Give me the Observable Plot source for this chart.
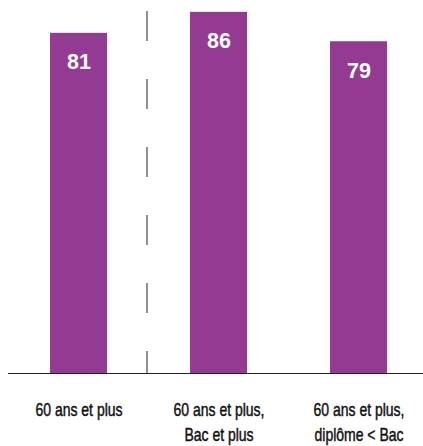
<!DOCTYPE html>
<html>
<head>
<meta charset="utf-8">
<script src="https://cdn.jsdelivr.net/npm/d3@7"></script>
<script src="https://cdn.jsdelivr.net/npm/@observablehq/plot@0.6"></script>
<style>
  html, body { margin: 0; padding: 0; background: white; }
  #chart svg { display: block; }
</style>
</head>
<body>
<div id="chart"></div>
<script>
const categories = ["60 ans et plus", "60 ans et plus,\nBac et plus", "60 ans et plus,\ndiplôme < Bac"];
const values = [81, 86, 79];

const data = categories.map((c, i) => ({cat: c, value: values[i]}));

const chart = Plot.plot({
  width: 423,
  height: 446,
  marginLeft: 8,
  marginRight: 0,
  marginTop: 11,
  marginBottom: 73,
  x: {domain: categories, paddingInner: 0.59, paddingOuter: 0.277, align: 0.535, axis: null},
  y: {domain: [0, 86.2], axis: null},
  style: {background: "white", fontFamily: "'Liberation Sans', Arial, sans-serif"},
  marks: [
    Plot.barY(data, {x: "cat", y: "value", fill: "#933b93"}),
    Plot.ruleX([categories[0]], {dx: 68, stroke: "#222", strokeWidth: 1, strokeDasharray: "30,38"}),
    Plot.ruleY([0], {stroke: "#222", strokeWidth: 1}),
    Plot.text(data, {x: "cat", y: "value", text: d => String(d.value), fill: "white", fontWeight: "bold", fontSize: 21.5, dy: 29}),
    Plot.text(data, {x: "cat", y: () => 0, text: "cat", lineAnchor: "top", dy: 25, fontSize: 17.5, lineHeight: 1.43, fill: "#111", stroke: "#111", strokeWidth: 0.45, className: "catlab"})
  ]
});
d3.select(chart).selectAll(".catlab text").attr("transform", function() {
  return (this.getAttribute("transform") || "") + " scale(0.8,1)";
});
document.getElementById("chart").appendChild(chart);
</script>
</body>
</html>
